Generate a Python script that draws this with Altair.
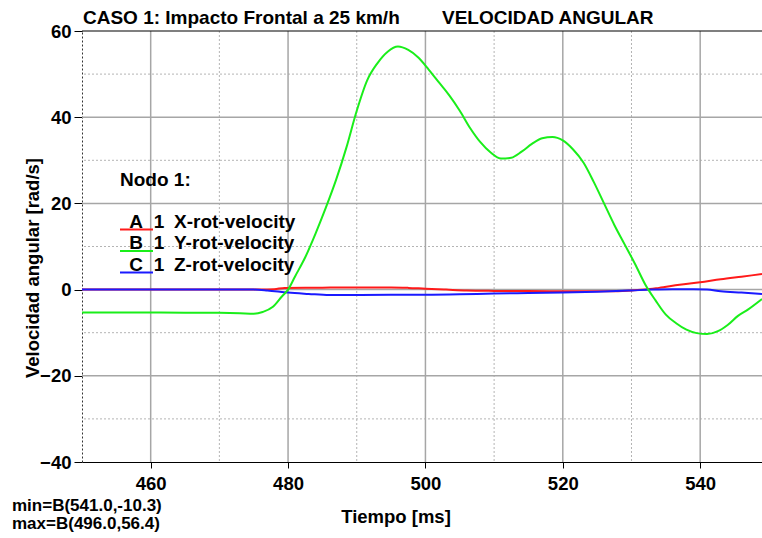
import altair as alt
import pandas as pd

FONT = "Liberation Sans"

# ---- data ----
t_A = [450, 476, 478, 479.5, 485, 490, 495, 497.5, 500, 503, 506, 510, 515, 520, 527, 530, 532,
       534, 537, 540, 543, 546, 549]
v_A = [0.0, 0.0, 0.1, 0.4, 0.45, 0.5, 0.5, 0.4, 0.2, 0.0, -0.2, -0.3, -0.35, -0.4, -0.4, -0.2, 0.0,
       0.4, 1.1, 1.7, 2.4, 3.0, 3.6]

t_B = [450, 455, 460, 465, 470, 473, 475, 476.3, 477.8, 479.1, 480, 481, 482.5, 484, 485.5, 487,
       488.5, 490, 491.5, 493, 494.5, 496, 497.5, 499, 500.5, 502, 503.5, 505, 506.5, 508, 509.5,
       511, 512.5, 514, 515.5, 517, 518.5, 520, 521.5, 523, 524.5, 526, 527.5, 529, 530.5, 532,
       533.5, 535, 536.5, 538, 539.5, 541, 542.5, 544, 545.5, 547, 549]
v_B = [-5.3, -5.3, -5.3, -5.35, -5.4, -5.5, -5.6, -5.2, -4.0, -1.6, 0.0, 3.0, 7.5, 13.0, 19.0, 25.5,
       33.0, 41.5, 48.5, 52.5, 55.2, 56.4, 55.6, 53.8, 51.0, 48.0, 45.0, 41.5, 37.5, 34.2, 31.8,
       30.4, 30.6, 32.0, 33.8, 35.1, 35.4, 34.6, 32.5, 29.5, 25.0, 20.0, 15.0, 10.5, 6.0, 1.2,
       -2.5, -5.8, -7.8, -9.3, -10.1, -10.3, -9.7, -8.2, -6.1, -4.6, -2.2]

t_C = [450, 475, 477, 480, 483, 486, 495, 500, 505, 510, 515, 520, 525, 530, 533, 536, 539, 541,
       543, 546, 549]
v_C = [0.0, 0.0, -0.2, -0.7, -1.0, -1.25, -1.2, -1.2, -1.1, -0.9, -0.8, -0.7, -0.5, -0.2, 0.0,
       0.1, 0.1, 0.0, -0.4, -0.7, -1.0]

x_major = [460, 480, 500, 520, 540]
x_minor = [470, 490, 510, 530]
y_major = [-20, 0, 20, 40]
y_minor = [-30, -10, 10, 30, 50]
y_ticks = [-40, -20, 0, 20, 40, 60]

title_text = "CASO 1: Impacto Frontal a 25 km/h" + "\u00a0" * 8 + "VELOCIDAD ANGULAR"
legend_head = "Nodo 1:"
legend_letters = ["A", "B", "C"]
legend_labels = ["X-rot-velocity", "Y-rot-velocity", "Z-rot-velocity"]
legend_colors = ["#ff1a1a", "#1aee1a", "#1a1aff"]
min_text = "min=B(541.0,-10.3)"
max_text = "max=B(496.0,56.4)"

# ---- chart ----
xs = alt.Scale(domain=[450, 549], nice=False, zero=False)
ys = alt.Scale(domain=[-40, 60], nice=False, zero=False)

xaxis = alt.Axis(values=x_major, title=None, grid=False, tickSize=6, tickColor="black",
                 domainColor="black", domainWidth=1.2, labelFont=FONT, labelFontSize=18.5,
                 labelFontWeight="bold", labelColor="black", labelPadding=6, labelFlush=False)
yaxis = alt.Axis(values=y_ticks, title=None, grid=False, tickSize=8, tickColor="black",
                 domainColor="#333333", domainDash=[2, 2], labelFont=FONT, labelFontSize=18.5,
                 labelFontWeight="bold", labelColor="black", labelPadding=3, labelFlush=False)


def X(f):
    return alt.X(f, type="quantitative", scale=xs, axis=xaxis)


def Y(f):
    return alt.Y(f, type="quantitative", scale=ys, axis=yaxis)


vmin = alt.Chart(pd.DataFrame({"v": x_minor})).mark_rule(
    color="#b4b4b4", strokeDash=[2, 2], strokeWidth=1).encode(x=X("v"))
hmin = alt.Chart(pd.DataFrame({"v": y_minor})).mark_rule(
    color="#b4b4b4", strokeDash=[2, 2], strokeWidth=1).encode(y=Y("v"))
vmaj = alt.Chart(pd.DataFrame({"v": x_major})).mark_rule(
    color="#a6a6a6", strokeWidth=1.5).encode(x=X("v"))
hmaj = alt.Chart(pd.DataFrame({"v": y_major})).mark_rule(
    color="#a6a6a6", strokeWidth=1.5).encode(y=Y("v"))
top = alt.Chart(pd.DataFrame({"v": [60]})).mark_rule(
    color="black", strokeWidth=1.2).encode(y=Y("v"))


def series(t, v, color):
    return alt.Chart(pd.DataFrame({"t": t, "v": v})).mark_line(
        color=color, strokeWidth=2, interpolate="monotone").encode(x=X("t"), y=Y("v"))


lineA = series(t_A, v_A, legend_colors[0])
lineC = series(t_C, v_C, legend_colors[2])
lineB = series(t_B, v_B, legend_colors[1])

one = pd.DataFrame({"a": [0]})


def txt(s, x, y, align="left", angle=0, size=19):
    return alt.Chart(one).mark_text(
        text=s, align=align, baseline="middle", angle=angle, font=FONT, fontSize=size,
        fontWeight="bold", color="black").encode(x=alt.value(x), y=alt.value(y))


texts = [
    txt(title_text, 1, -13),
    txt(legend_head, 38, 149),
    txt(min_text, -70, 475, size=17),
    txt(max_text, -70, 493, size=17),
    txt("Tiempo [ms]", 314, 486, align="center", size=18.5),
    txt("Velocidad angular [rad/s]", -49, 237, align="center", angle=270, size=18.5),
]
row_y = [190.5, 212, 233.5]
for i in range(3):
    texts.append(txt(legend_letters[i], 54, row_y[i], align="center"))
    texts.append(txt("1", 77, row_y[i], align="center"))
    texts.append(txt(legend_labels[i], 92, row_y[i]))
    texts.append(alt.Chart(one).mark_rule(color=legend_colors[i], strokeWidth=2).encode(
        x=alt.value(38), x2=alt.value(71), y=alt.value(row_y[i] + 8)))

chart = alt.layer(vmin, hmin, vmaj, hmaj, top, lineA, lineC, lineB, *texts).properties(
    width=680, height=431,
    padding={"left": 82, "top": 31, "right": 0, "bottom": 76},
    autosize=alt.AutoSizeParams(type="none"),
    background="white",
).configure_view(stroke=None)

chart.save("out.html", embed_options={"renderer": "svg", "actions": False})
